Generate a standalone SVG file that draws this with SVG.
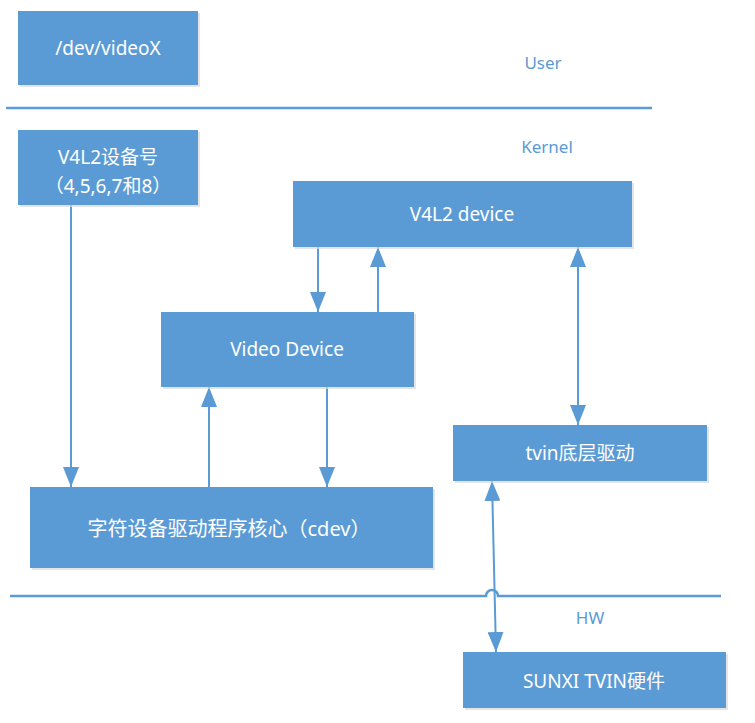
<svg xmlns="http://www.w3.org/2000/svg" width="755" height="723" viewBox="0 0 755 723">
<defs>
<style>
.box{fill:#5b9bd5;}
.sh{fill:#d9d9d9;opacity:0.7;}
.t{fill:#ffffff;font-family:"Noto Sans","Noto Sans CJK SC",sans-serif;font-size:19px;text-anchor:middle;dominant-baseline:central;}
.lbl{fill:#5b9bd5;font-family:"Noto Sans","Noto Sans CJK SC",sans-serif;font-size:17px;text-anchor:middle;dominant-baseline:central;}
.ln{stroke:#5b9bd5;stroke-width:2.5;fill:none;}
.c{stroke:#5b9bd5;stroke-width:2;fill:none;}
</style>
<marker id="ah" viewBox="0 0 20 16" refX="20" refY="8" markerWidth="20" markerHeight="16" markerUnits="userSpaceOnUse" orient="auto-start-reverse">
<path d="M0,0 L20,8 L0,16 Z" fill="#5b9bd5"/>
</marker>
</defs>
<rect width="755" height="723" fill="#ffffff"/>
<g id="separators">
<line class="ln" x1="6" y1="108" x2="652" y2="108"/>
<path class="ln" d="M10,596 L486,596 A6,6 0 0 1 498,596 L721,596"/>
</g>
<g id="labels">
<text class="lbl" x="543" y="62">User</text>
<text class="lbl" x="547" y="146">Kernel</text>
<text class="lbl" x="590" y="617">HW</text>
</g>
<g id="connectors">
<line class="c" x1="71" y1="205" x2="71" y2="487" marker-end="url(#ah)"/>
<line class="c" x1="318" y1="247" x2="318" y2="312" marker-end="url(#ah)"/>
<line class="c" x1="378" y1="312" x2="378" y2="247" marker-end="url(#ah)"/>
<line class="c" x1="578" y1="247" x2="578" y2="425" marker-start="url(#ah)" marker-end="url(#ah)"/>
<line class="c" x1="209" y1="487" x2="209" y2="387" marker-end="url(#ah)"/>
<line class="c" x1="327" y1="387" x2="327" y2="487" marker-end="url(#ah)"/>
<line class="c" x1="492" y1="481" x2="496" y2="652" marker-start="url(#ah)" marker-end="url(#ah)"/>
</g>
<g id="devvideo">
<rect class="sh" x="20" y="13" width="180" height="74"/>
<rect class="box" x="18" y="11" width="180" height="74"/>
<text class="t" x="108" y="48">/dev/videoX</text>
</g>
<g id="v4l2num">
<rect class="sh" x="20" y="132" width="180" height="75"/>
<rect class="box" x="18" y="130" width="180" height="75"/>
<text class="t" x="108" y="157">V4L2设备号</text>
<text class="t" x="108" y="186">（4,5,6,7和8）</text>
</g>
<g id="v4l2dev">
<rect class="sh" x="295" y="183" width="339" height="66"/>
<rect class="box" x="293" y="181" width="339" height="66"/>
<text class="t" x="462" y="214">V4L2 device</text>
</g>
<g id="videodev">
<rect class="sh" x="163" y="314" width="253" height="75"/>
<rect class="box" x="161" y="312" width="253" height="75"/>
<text class="t" x="287" y="349">Video Device</text>
</g>
<g id="tvin">
<rect class="sh" x="455" y="427" width="254" height="56"/>
<rect class="box" x="453" y="425" width="254" height="56"/>
<text class="t" x="580" y="453">tvin底层驱动</text>
</g>
<g id="cdev">
<rect class="sh" x="32" y="489" width="403" height="81"/>
<rect class="box" x="30" y="487" width="403" height="81"/>
<text class="t" x="229" y="528" style="font-size:20px">字符设备驱动程序核心（cdev）</text>
</g>
<g id="sunxi">
<rect class="sh" x="465" y="654" width="263" height="56"/>
<rect class="box" x="463" y="652" width="263" height="56"/>
<text class="t" x="594" y="681">SUNXI TVIN硬件</text>
</g>
</svg>
